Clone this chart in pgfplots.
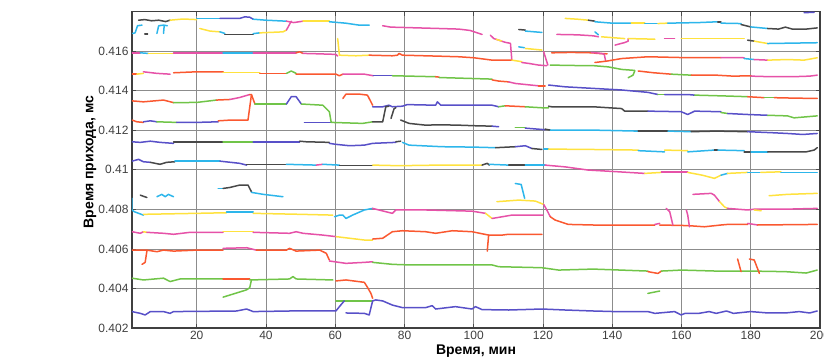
\documentclass[border=0pt]{standalone}
\usepackage{fontspec}
\setmainfont{Liberation Sans}
\usepackage{pgfplots}
\pgfplotsset{compat=1.18}
\definecolor{cb}{RGB}{88,80,200}
\definecolor{cg}{RGB}{112,196,72}
\definecolor{cr}{RGB}{250,88,48}
\definecolor{cc}{RGB}{45,182,235}
\definecolor{cp}{RGB}{230,82,168}
\definecolor{cy}{RGB}{255,226,62}
\definecolor{ck}{RGB}{72,72,72}
\begin{document}
\begin{tikzpicture}
\begin{axis}[
  scale only axis, width=688pt, height=316.3pt,
  xmin=1.3, xmax=200, ymin=0.402, ymax=0.418,
  xtick={20,40,60,80,100,120,140,160,180,200},
  xticklabels={20,40,60,80,100,120,140,160,180,200},
  ytick={0.402,0.404,0.406,0.408,0.41,0.412,0.414,0.416},
  yticklabels={0.402,0.404,0.406,0.408,0.41,0.412,0.414,0.416},
  grid=major, major grid style={line width=0.8pt, color=black!45},
  tick align=inside, major tick length=4pt,
  tick style={black!70, line width=0.8pt},
  axis line style={black!75, line width=1.1pt},
  tick label style={font=\fontsize{12}{14}\selectfont, text=black!75},
  xlabel={Время, мин}, ylabel={Время прихода, мс},
  label style={font=\fontsize{14}{16}\selectfont\bfseries},
  xlabel style={at={(axis description cs:0.5,-0.0835)}, anchor=base},
  ylabel style={at={(axis description cs:-0.061,0.525)}, anchor=center},
  every axis plot/.append style={line width=1.5pt, line join=round, line cap=round},
]
% ===== R1 top
\addplot[ck] coordinates {(3.2,0.41757)(5,0.4176)(7,0.41754)(9,0.41757)(11,0.4175)(12.3,0.41757)};
\addplot[cy] coordinates {(12.3,0.41757)(16,0.41763)(20,0.4176)};
\addplot[cc] coordinates {(20,0.41766)(26.7,0.41766)};
\addplot[cb] coordinates {(26.7,0.41766)(32.4,0.41766)(33.9,0.41774)(35.3,0.41772)(36.3,0.41762)};
\addplot[cc] coordinates {(36.3,0.41762)(40,0.41757)(45.9,0.41752)};
\addplot[cp] coordinates {(45.9,0.41752)(48,0.41745)(50.7,0.41752)};
\addplot[cy] coordinates {(50.7,0.41752)(58.3,0.41752)};
\addplot[cc] coordinates {(58.3,0.41749)(63,0.41742)(66.9,0.41732)(69.8,0.41732)};
\addplot[cp] coordinates {(73.7,0.41729)(76,0.41722)(80,0.4172)(90,0.41715)(95.7,0.41712)(99,0.41705)(102.4,0.41685)};
\addplot[cp] coordinates {(104.8,0.41681)(105.8,0.41664)(107.2,0.41656)(109.1,0.41645)(110.6,0.4164)(111,0.41555)};
\addplot[cy] coordinates {(106.5,0.4166)(108,0.41652)};
\addplot[ck] coordinates {(113,0.4171)(114.9,0.41707)};
\addplot[cc] coordinates {(114.9,0.41702)(119.7,0.41695)};
\addplot[cy] coordinates {(126.4,0.41766)(130,0.41762)(133.1,0.41757)};
\addplot[ck] coordinates {(133.1,0.41757)(135,0.41752)};
\addplot[cc] coordinates {(135,0.41749)(140,0.41742)(145.5,0.41742)};
\addplot[cy] coordinates {(145.5,0.41742)(149.4,0.41742)};
\addplot[cc] coordinates {(149.4,0.4174)(153.2,0.4174)};
\addplot[cy] coordinates {(153.2,0.4174)(156,0.41742)};
\addplot[cc] coordinates {(156,0.41742)(165,0.41745)(170.5,0.41749)};
\addplot[ck] coordinates {(170.5,0.41749)(171.4,0.41749)};
\addplot[cc] coordinates {(171.4,0.41742)(177.2,0.4174)};
\addplot[ck] coordinates {(177.2,0.41735)(180,0.41723)};
\addplot[cc] coordinates {(180,0.41723)(184.9,0.41715)};
\addplot[ck] coordinates {(184.9,0.41715)(188,0.41712)(190,0.41722)(192,0.41712)(196,0.41712)(199.2,0.41718)};
\addplot[cb] coordinates {(195.4,0.41795)(198.3,0.41797)};
% branch
\addplot[cy] coordinates {(20.9,0.41715)(23.8,0.41702)(26.7,0.41698)};
\addplot[cc] coordinates {(26.7,0.41698)(28.1,0.4169)};
\addplot[ck] coordinates {(28.1,0.41685)(36.3,0.41685)};
\addplot[cc] coordinates {(36.3,0.41689)(38.2,0.41693)};
\addplot[cy] coordinates {(38.2,0.41693)(44.9,0.41698)(45.9,0.41707)};
\addplot[cp] coordinates {(45.9,0.41707)(47.3,0.41752)};
% cyan squiggles
\addplot[cc] coordinates {(1.5,0.4169)(2.2,0.41693)(2.9,0.41729)(4.2,0.41732)};
\addplot[cc] coordinates {(8.5,0.4169)(9,0.41729)(10.4,0.41732)(11.5,0.41729)};
\addplot[cc] coordinates {(10.6,0.41729)(10.4,0.4169)};
\addplot[ck] coordinates {(5,0.41688)(5.8,0.41688)};
% ===== between R1 and R2
\addplot[cy] coordinates {(60.7,0.41664)(61.2,0.4158)};
\addplot[cc] coordinates {(113,0.41622)(114.6,0.41618)};
\addplot[cy] coordinates {(114.9,0.41614)(119.7,0.41606)};
\addplot[cp] coordinates {(124,0.41685)(130,0.41683)(134.5,0.41678)(136,0.41673)};
\addplot[cc] coordinates {(135,0.41698)(136,0.41683)};
\addplot[cy] coordinates {(136.9,0.41673)(143.6,0.41664)};
\addplot[cp] coordinates {(140.8,0.41631)(143.6,0.41644)(144.6,0.41651)(144.6,0.41664)};
\addplot[cy] coordinates {(144.6,0.41664)(152.3,0.41661)};
\addplot[cp] coordinates {(155.1,0.41664)(158,0.41664)};
\addplot[cy] coordinates {(159.9,0.41664)(170,0.41664)(178.1,0.41664)};
\addplot[ck] coordinates {(179.1,0.41656)(181,0.41651)};
\addplot[cy] coordinates {(181,0.41651)(184.9,0.41639)};
\addplot[cc] coordinates {(184.9,0.41639)(192,0.41641)(199.2,0.41643)};
% ===== R2
\addplot[cp] coordinates {(1.3,0.41592)(3.7,0.41592)};
\addplot[cc] coordinates {(3.7,0.41592)(6,0.41589)};
\addplot[cy] coordinates {(6,0.41589)(13.3,0.41589)};
\addplot[cp] coordinates {(13.3,0.41592)(27.6,0.41592)};
\addplot[cc] coordinates {(27.6,0.41592)(36.3,0.41592)};
\addplot[cp] coordinates {(36.3,0.41592)(48.7,0.41592)};
\addplot[cr] coordinates {(48.7,0.41592)(49.7,0.41597)(50.7,0.41589)};
\addplot[cp] coordinates {(50.7,0.41589)(55,0.41587)(60.2,0.41584)(60.7,0.41575)};
\addplot[cy] coordinates {(61.2,0.4158)(66,0.41577)(69.8,0.4158)};
\addplot[cr] coordinates {(69.8,0.4158)(76.5,0.41577)(78,0.4158)(78.4,0.41589)(79.4,0.4158)(90,0.41575)(95.7,0.41572)(100,0.41567)(105.3,0.41555)(111,0.41555)};
\addplot[cy] coordinates {(111,0.41555)(113.9,0.41547)};
\addplot[cp] coordinates {(113.9,0.41543)(116,0.41538)(118.7,0.4153)(121.1,0.41527)};
\addplot[cp] coordinates {(120.2,0.41597)(121.4,0.4153)};
\addplot[cr] coordinates {(122.5,0.41592)(128,0.41594)(134.5,0.41592)(135.5,0.41589)(138.5,0.41587)};
\addplot[cp] coordinates {(134,0.41594)(136.9,0.41589)(137.7,0.41584)(138.1,0.4155)};
\addplot[cr] coordinates {(135,0.41543)(138.4,0.4155)(142.7,0.41563)(150.3,0.41572)(160,0.41568)(171.4,0.41568)};
\addplot[cp] coordinates {(171.4,0.41568)(178.1,0.41567)};
\addplot[cc] coordinates {(178.1,0.41563)(181,0.41558)};
\addplot[cp] coordinates {(181,0.41558)(184.9,0.41555)};
\addplot[cy] coordinates {(184.9,0.41555)(190.6,0.41558)(195.4,0.41555)(199.2,0.41567)};
% ===== R2b green
\addplot[cg] coordinates {(122.1,0.4153)(128,0.41528)(134.5,0.41527)(138.8,0.41521)(142.7,0.41508)(146.5,0.41503)};
\addplot[cg] coordinates {(144.6,0.41466)(146,0.41479)(146.5,0.415)};
\addplot[cr] coordinates {(147.5,0.415)(152,0.41491)(157,0.41484)};
\addplot[cg] coordinates {(157,0.41484)(162.8,0.41479)};
\addplot[cr] coordinates {(162.8,0.41479)(170,0.41479)(175,0.41474)(180.1,0.41476)};
\addplot[cp] coordinates {(180.1,0.41474)(186,0.41471)(192,0.41471)(197,0.41474)(199.2,0.41479)};
% ===== R3
\addplot[cr] coordinates {(1.3,0.41484)(2.7,0.41484)};
\addplot[cy] coordinates {(2.7,0.41484)(4.6,0.41488)};
\addplot[cp] coordinates {(4.6,0.41496)(8.5,0.41488)(12.3,0.41484)};
\addplot[cr] coordinates {(13.3,0.41491)(20,0.41496)(27.6,0.41496)};
\addplot[cy] coordinates {(27.6,0.41493)(38.2,0.41493)};
\addplot[cr] coordinates {(38.2,0.41488)(45.9,0.41488)};
\addplot[cg] coordinates {(45.9,0.41488)(47.3,0.415)(48.7,0.41488)};
\addplot[cr] coordinates {(48.7,0.41484)(60.2,0.41484)(61.2,0.41476)(62.2,0.41484)};
\addplot[cp] coordinates {(62.2,0.41484)(68.4,0.41484)(71,0.41476)};
\addplot[cb] coordinates {(71,0.41476)(76.5,0.41476)};
\addplot[cg] coordinates {(76.5,0.41476)(89,0.41471)};
\addplot[cr] coordinates {(89,0.41471)(90,0.41469)};
\addplot[cg] coordinates {(90,0.41467)(105.3,0.41459)};
\addplot[cr] coordinates {(105.3,0.41455)(107.2,0.41449)(110.1,0.41445)};
\addplot[cp] coordinates {(110.1,0.41445)(112,0.41437)(118.7,0.41425)};
\addplot[cr] coordinates {(118.7,0.41425)(120.6,0.41425)};
\addplot[cb] coordinates {(121.6,0.41429)(126.4,0.4142)(134.5,0.41412)(142.7,0.41404)(150.3,0.41392)(153.2,0.41381)};
\addplot[cg] coordinates {(153.2,0.41381)(155.1,0.41381)};
\addplot[cb] coordinates {(155.1,0.41381)(161.8,0.41381)(163.8,0.41378)};
\addplot[cg] coordinates {(163.8,0.41378)(172,0.41374)(179.1,0.4137)};
\addplot[cr] coordinates {(179.1,0.4137)(183.9,0.41365)};
\addplot[cg] coordinates {(183.9,0.41365)(186.8,0.41365)};
\addplot[cr] coordinates {(186.8,0.41365)(192,0.41363)(199.2,0.41361)};
% ===== R4
\addplot[cr] coordinates {(1.3,0.41349)(4.6,0.41344)(10.4,0.41353)(13.3,0.4134)};
\addplot[cg] coordinates {(13.3,0.4134)(20,0.41341)(25.7,0.41353)};
\addplot[cr] coordinates {(25.7,0.41353)(29.6,0.41356)};
\addplot[cp] coordinates {(29.6,0.41356)(32.4,0.41366)(35.3,0.41381)};
\addplot[cr] coordinates {(35.3,0.41381)(35.8,0.41381)(36.8,0.41333)};
\addplot[cg] coordinates {(36.8,0.41333)(45.9,0.41333)};
\addplot[cb] coordinates {(45.9,0.41333)(47.3,0.4137)(48.7,0.4137)(50.2,0.41333)};
\addplot[cg] coordinates {(50.2,0.41333)(56.4,0.41327)(58.3,0.41294)(58.8,0.41243)};
\addplot[cr] coordinates {(62.2,0.41361)(63.1,0.41383)(67,0.41383)(69.3,0.41378)(70.3,0.41344)(70.8,0.41327)};
\addplot[cb] coordinates {(70.8,0.41319)(73.7,0.41319)(75.5,0.41327)(76.5,0.41319)(79.4,0.41322)(80.8,0.4133)(89,0.41327)(89.5,0.41344)(90.5,0.41327)(105.3,0.41327)(107.2,0.41319)};
\addplot[cg] coordinates {(107.2,0.41319)(109.1,0.41324)};
\addplot[cr] coordinates {(109.1,0.41324)(114.9,0.41319)};
\addplot[cg] coordinates {(114.9,0.41319)(119.7,0.41314)(121.6,0.41314)};
\addplot[ck] coordinates {(121.6,0.41322)(122.5,0.41319)(134.5,0.41319)(142.7,0.4131)(143.6,0.41297)(150.3,0.41297)};
\addplot[cb] coordinates {(150.3,0.41297)(159.9,0.41294)(161.8,0.4128)(163.8,0.41297)(171.4,0.41294)};
\addplot[cg] coordinates {(171.4,0.4129)(173.3,0.41285)};
\addplot[cb] coordinates {(173.3,0.41285)(179.1,0.4128)(184.9,0.41276)};
\addplot[cg] coordinates {(184.9,0.41276)(190.6,0.41273)(192.5,0.41263)(199.2,0.41273)};
% ===== R5
\addplot[cr] coordinates {(1.3,0.41252)(2.7,0.41243)(4.6,0.4124)};
\addplot[cb] coordinates {(4.6,0.41243)(6.6,0.41248)(8.5,0.41243)};
\addplot[cg] coordinates {(8.5,0.41243)(14.2,0.4124)};
\addplot[cb] coordinates {(14.2,0.4124)(20,0.4124)(26.2,0.41243)};
\addplot[cr] coordinates {(26.2,0.41248)(30,0.41252)(34.8,0.41252)(35.8,0.41381)};
\addplot[cb] coordinates {(51.1,0.4124)(58.8,0.4124)};
\addplot[cg] coordinates {(58.8,0.4124)(67.9,0.41235)(70.8,0.41243)};
\addplot[ck] coordinates {(70.8,0.41243)(73.7,0.41243)(74.6,0.41319)(75.5,0.41322)};
\addplot[ck] coordinates {(76.1,0.4126)(77,0.4131)(77.5,0.41314)};
\addplot[ck] coordinates {(78.9,0.41252)(81.3,0.41235)(86.1,0.41226)(90,0.41228)(95.7,0.41226)(100.5,0.41223)(105.3,0.41221)};
\addplot[cb] coordinates {(105.3,0.41221)(107.2,0.41218)};
\addplot[cg] coordinates {(112,0.41213)(114.9,0.41213)};
\addplot[cb] coordinates {(114.9,0.41211)(120.6,0.41203)};
\addplot[ck] coordinates {(120.6,0.41206)(122.1,0.41201)};
\addplot[cc] coordinates {(122.1,0.41201)(134.5,0.41201)(147.5,0.41196)};
\addplot[ck] coordinates {(147.5,0.41196)(156.1,0.41196)};
\addplot[cc] coordinates {(156.1,0.41196)(162.8,0.41193)};
\addplot[ck] coordinates {(162.8,0.41193)(170,0.41196)(179.1,0.41193)};
\addplot[cb] coordinates {(179.1,0.41193)(186,0.41188)(190.6,0.41184)(195,0.41179)(199.2,0.41184)};
% ===== R6
\addplot[cb] coordinates {(1.3,0.41142)(3.7,0.41139)(6.6,0.41145)(9.4,0.41139)(13.3,0.41134)};
\addplot[ck] coordinates {(13.3,0.41142)(20,0.41142)(27.6,0.41142)};
\addplot[cg] coordinates {(27.6,0.41142)(36.3,0.41142)};
\addplot[cb] coordinates {(36.3,0.41142)(49.7,0.41142)};
\addplot[ck] coordinates {(49.7,0.41145)(51.6,0.41142)(58.3,0.41139)};
\addplot[cb] coordinates {(58.3,0.41134)(60.2,0.41129)(64.1,0.41122)(68.4,0.41125)(70.8,0.41134)(77.5,0.41139)};
\addplot[ck] coordinates {(77.5,0.41142)(78.9,0.41145)};
\addplot[cc] coordinates {(79.4,0.41139)(81.3,0.41125)(90.9,0.41117)(100,0.41115)(106.3,0.41112)};
\addplot[ck] coordinates {(106.3,0.41112)(112,0.41117)};
\addplot[cb] coordinates {(112,0.41117)(114.9,0.41122)(116.8,0.41108)};
\addplot[ck] coordinates {(116.8,0.41108)(119.7,0.41103)};
\addplot[cc] coordinates {(120.2,0.41105)(121.6,0.41105)};
\addplot[cy] coordinates {(121.6,0.41105)(134.5,0.41103)(147.5,0.411)};
\addplot[cc] coordinates {(147.5,0.41097)(155.1,0.41091)};
\addplot[cy] coordinates {(155.1,0.411)(161.8,0.41097)};
\addplot[cc] coordinates {(161.8,0.41091)(169.5,0.411)};
\addplot[ck] coordinates {(169.5,0.411)(170.5,0.411)};
\addplot[cc] coordinates {(170.5,0.411)(178.1,0.41097)};
\addplot[ck] coordinates {(178.1,0.41091)(180.1,0.41091)};
\addplot[cc] coordinates {(180.1,0.41091)(184.9,0.41091)};
\addplot[ck] coordinates {(184.9,0.41091)(190,0.41091)(196,0.41091)(198.3,0.411)(199.2,0.41112)};
% ===== R7
\addplot[cb] coordinates {(1.3,0.41044)(3.2,0.41053)(4.6,0.41041)(6.6,0.41038)};
\addplot[ck] coordinates {(6.6,0.41038)(9.4,0.41028)(11.3,0.41038)(13.7,0.41041)};
\addplot[cc] coordinates {(13.7,0.41044)(26.7,0.41044)};
\addplot[cb] coordinates {(26.7,0.41044)(32.4,0.41033)(34.4,0.41024)};
\addplot[ck] coordinates {(34.4,0.41028)(45.9,0.41028)};
\addplot[cc] coordinates {(45.9,0.41028)(54.5,0.41024)};
\addplot[cp] coordinates {(54.5,0.41024)(56.4,0.41028)};
\addplot[cc] coordinates {(56.4,0.41028)(61.2,0.41024)};
\addplot[ck] coordinates {(61.2,0.41021)(70.8,0.41021)};
\addplot[cy] coordinates {(70.8,0.41024)(78.4,0.41021)(90,0.41024)(102.4,0.41024)};
\addplot[ck] coordinates {(102.4,0.41024)(103.9,0.41033)(104.5,0.41024)};
\addplot[cc] coordinates {(104.5,0.41028)(110.1,0.41024)};
\addplot[ck] coordinates {(110.1,0.41024)(114.9,0.41024)};
\addplot[cc] coordinates {(114.9,0.41024)(120.6,0.41024)};
\addplot[cp] coordinates {(120.6,0.41024)(126.4,0.41015)(133,0.40999)(140,0.40992)(149.4,0.40982)};
\addplot[cy] coordinates {(149.4,0.40982)(154.2,0.40987)};
\addplot[cp] coordinates {(154.2,0.4099)(161.8,0.4099)};
\addplot[cy] coordinates {(161.8,0.40987)(166,0.40973)(169.5,0.40957)(171.4,0.40973)};
\addplot[cc] coordinates {(171.4,0.40973)(173.3,0.40982)};
\addplot[cy] coordinates {(173.3,0.40982)(179.1,0.40987)};
\addplot[cc] coordinates {(179.1,0.40987)(182.9,0.40987)};
\addplot[cy] coordinates {(182.9,0.40987)(188.7,0.4099)};
\addplot[cc] coordinates {(188.7,0.40987)(194,0.40987)(199.2,0.40987)};
% ===== R8 sparse
\addplot[ck] coordinates {(3.7,0.40872)(5.6,0.4086)};
\addplot[cc] coordinates {(8.5,0.40864)(9.9,0.40876)(10.9,0.40864)(11.8,0.40876)(13.3,0.40864)};
\addplot[cc] coordinates {(26.2,0.40906)(27.6,0.40906)};
\addplot[ck] coordinates {(27.6,0.40906)(29.6,0.40911)(32.4,0.40923)(34.8,0.40923)(35.8,0.40889)};
\addplot[cc] coordinates {(35.8,0.40886)(39.2,0.40876)(44.9,0.40864)};
\addplot[cc] coordinates {(112,0.40931)(113.7,0.40926)(114.7,0.40856)};
\addplot[cy] coordinates {(106.7,0.40839)(113,0.40847)(117.8,0.40842)(120.2,0.40825)};
\addplot[cp] coordinates {(120.2,0.40825)(121.1,0.40797)(122.1,0.40763)};
\addplot[cp] coordinates {(163.3,0.40876)(168.6,0.40881)(169.5,0.40872)(171,0.40839)};
\addplot[cy] coordinates {(171,0.40839)(172.4,0.40813)(173.3,0.40805)};
\addplot[cp] coordinates {(173.3,0.40805)(179.1,0.40797)(181,0.40801)(190,0.40801)(199.2,0.40805)};
\addplot[cy] coordinates {(181,0.40797)(183,0.40793)};
\addplot[cy] coordinates {(185.3,0.40869)(190.6,0.40876)(199.2,0.40881)};
% ===== R9
\addplot[cc] coordinates {(1.3,0.40856)(1.3,0.40797)(2,0.40788)(4.6,0.40771)};
\addplot[cy] coordinates {(4.6,0.40775)(20,0.4078)(28.6,0.40783)};
\addplot[cc] coordinates {(28.6,0.40788)(36.3,0.40788)};
\addplot[cy] coordinates {(36.3,0.4078)(50,0.40775)(59.3,0.40771)};
\addplot[cc] coordinates {(59.8,0.40763)(61.2,0.40771)(62.2,0.40771)(63.1,0.40754)(65,0.40771)(68.4,0.40797)(70.8,0.40805)};
\addplot[cp] coordinates {(70.8,0.40805)(76.5,0.4078)(77.5,0.40797)(86.1,0.40797)(99.5,0.40791)(103.4,0.4078)};
\addplot[cy] coordinates {(103.4,0.4078)(105.3,0.40754)};
\addplot[cp] coordinates {(105.3,0.40754)(111,0.40771)(118.7,0.40771)(120,0.40771)};
\addplot[cr] coordinates {(122.1,0.40763)(123.5,0.40746)(127.3,0.40724)(134.5,0.40721)(152.3,0.40721)};
\addplot[cp] coordinates {(152.3,0.40724)(153.7,0.40729)};
\addplot[cr] coordinates {(153.7,0.40721)(161.8,0.40718)(166.6,0.40712)(171.4,0.40721)(173.3,0.40724)(179.1,0.40724)};
\addplot[cp] coordinates {(179.1,0.40729)(182,0.40721)};
\addplot[cr] coordinates {(182,0.40721)(199.2,0.40724)};
\addplot[cp] coordinates {(155.6,0.40805)(156.6,0.40788)(157.5,0.40721)};
\addplot[cp] coordinates {(161.4,0.40797)(161.8,0.40771)(162.3,0.40712)};
% ===== R10
\addplot[cp] coordinates {(1.3,0.40687)(3.7,0.40679)(4.6,0.40687)};
\addplot[cy] coordinates {(4.6,0.40687)(5.6,0.40684)};
\addplot[cp] coordinates {(5.6,0.40684)(10.4,0.40679)(13.3,0.40674)(18.1,0.40684)(27.6,0.40684)};
\addplot[cy] coordinates {(27.6,0.40687)(36.3,0.40687)};
\addplot[cp] coordinates {(36.3,0.40684)(46.8,0.40679)(48.7,0.40687)(50.7,0.40679)(56.4,0.4067)(60.3,0.40662)};
\addplot[cy] coordinates {(60.3,0.40662)(68.4,0.40645)(70.8,0.40645)};
\addplot[cr] coordinates {(70.8,0.4065)(73.7,0.40654)(76.5,0.40687)(79.4,0.40692)(86.1,0.40687)(89,0.40679)(93.8,0.40692)(99.5,0.40687)(104.3,0.4067)(108.2,0.4067)(110,0.40674)(119.7,0.40674)};
\addplot[cr] coordinates {(104.3,0.4067)(103.9,0.40589)};
% ===== R11
\addplot[cr] coordinates {(1.3,0.40594)(5.6,0.40594)(8.5,0.40586)(10.4,0.40594)(13.3,0.40589)(20,0.40594)(27.6,0.40594)};
\addplot[cr] coordinates {(5.6,0.40589)(5.1,0.40532)(4.2,0.40522)};
\addplot[cp] coordinates {(27.6,0.40603)(34.4,0.40606)(37.2,0.40594)};
\addplot[cr] coordinates {(37.2,0.40594)(45.9,0.40594)(46.8,0.40603)(48.7,0.40589)(55.5,0.40594)(57.4,0.40578)(58.3,0.40544)};
\addplot[cp] coordinates {(58.3,0.40539)(63.1,0.40527)(68.4,0.40532)(70.8,0.40535)};
\addplot[cg] coordinates {(70.8,0.40532)(76.5,0.40522)(81.3,0.40519)(105.3,0.40519)(107.2,0.4051)(119.7,0.40505)(124.5,0.40493)(134.5,0.40498)(150.3,0.40488)};
\addplot[cr] coordinates {(150.3,0.40485)(153.2,0.40476)(154.2,0.40488)};
\addplot[cg] coordinates {(154.2,0.40488)(160,0.40493)(170,0.40488)(180,0.40488)(190,0.40485)(196,0.40478)(199.2,0.40493)};
\addplot[cr] coordinates {(176.2,0.40549)(177.2,0.40485)};
\addplot[cr] coordinates {(179.6,0.40549)(181,0.40544)(182.5,0.40476)};
\addplot[cg] coordinates {(150.3,0.40375)(153.7,0.40387)};
% ===== R12
\addplot[cg] coordinates {(1.3,0.40452)(4.6,0.40443)(10.4,0.40452)(12.3,0.40435)(15.2,0.40448)(27.6,0.40448)};
\addplot[cr] coordinates {(27.6,0.40448)(35.3,0.40448)};
\addplot[cg] coordinates {(35.3,0.40443)(46.8,0.40448)(47.8,0.4046)(48.7,0.40448)(59.3,0.40443)};
\addplot[cr] coordinates {(60.2,0.40438)(63.1,0.40443)(68.4,0.40431)(69.3,0.40406)(70.3,0.40375)(70.8,0.4035)};
\addplot[cg] coordinates {(27.6,0.40356)(34.4,0.40393)(35.3,0.40404)(35.8,0.40443)};
\addplot[cg] coordinates {(60.2,0.40337)(70.8,0.40337)};
% ===== R13 bottom blue
\addplot[cb] coordinates {(1.3,0.40283)(3.7,0.40274)(5.1,0.40266)(6.6,0.40283)(10.4,0.40283)(12.3,0.40274)(13.3,0.40283)(31.5,0.40286)(34.4,0.40296)(36.3,0.40283)(46.8,0.40286)(60.2,0.40286)(61.2,0.40308)(62.6,0.40337)};
\addplot[cb] coordinates {(63.1,0.40276)(68.4,0.40274)(69.8,0.40266)(70.8,0.40337)(71.7,0.40342)(73.7,0.40337)(76.5,0.40316)(79.4,0.40303)(86.1,0.40303)(88,0.40313)(89,0.40296)(94.7,0.40308)(99.5,0.40296)(100.5,0.40308)(102.4,0.40293)(110.1,0.40291)(119.7,0.40296)(126.4,0.40291)(134.5,0.40286)(140.8,0.40283)(150.3,0.40283)(152.3,0.40274)(158,0.40283)(159.9,0.40266)(161,0.40274)(165,0.40274)(168,0.40283)(170,0.40274)(173,0.40286)(175,0.40274)(180,0.40283)(185,0.40276)(190,0.40276)(194,0.40283)(197,0.40276)(199.2,0.40286)};
\end{axis}
\pgfresetboundingbox
\path[use as bounding box] ([xshift=-132pt,yshift=-30pt]current axis.south west) rectangle ([xshift=4pt,yshift=11.7pt]current axis.north east);
\end{tikzpicture}
\end{document}
